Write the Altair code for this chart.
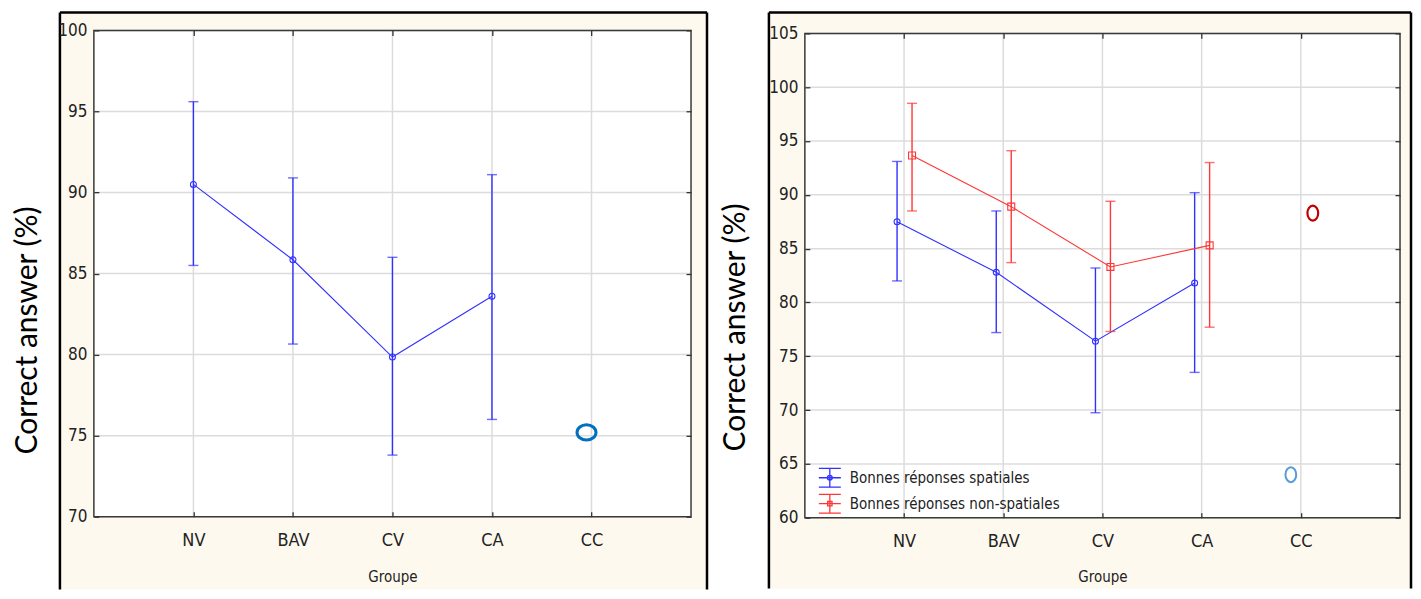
import altair as alt
import pandas as pd

GROUPS = ["NV", "BAV", "CV", "CA", "CC"]
MEAN_GROUPS = ["NV", "BAV", "CV", "CA"]

# Left panel values
L_MEAN = [90.5, 85.85, 79.85, 83.6]
L_LOW = [85.5, 80.65, 73.8, 76.0]
L_HIGH = [95.6, 90.9, 86.0, 91.1]
L_CC = [75.2]
L_TICKS = [70, 75, 80, 85, 90, 95, 100]

# Right panel values
SERIES = ["Bonnes réponses spatiales", "Bonnes réponses non-spatiales"]
S_MEAN = [87.5, 82.8, 76.4, 81.8]
S_LOW = [82.0, 77.2, 69.75, 73.5]
S_HIGH = [93.1, 88.5, 83.2, 90.2]
N_MEAN = [93.65, 88.9, 83.3, 85.3]
N_LOW = [88.5, 83.7, 77.3, 77.7]
N_HIGH = [98.5, 94.1, 89.4, 93.0]
S_CC = [64.0]
N_CC = [88.3]
R_TICKS = [60, 65, 70, 75, 80, 85, 90, 95, 100, 105]

NARROW = "Liberation Sans Narrow, Arial Narrow, DejaVu Sans Condensed, sans-serif"
TITLE_FONT = "Lato, Open Sans, sans-serif"
BLUE = "#3030FF"
RED = "#FF3636"
CREAM = "#FEF9EE"
GRID = "#DCDCDC"
INK = "#222222"
TICKC = "#333333"

PATH_SPAT = ("M-1,-0.85H1M-1,0.85H1M0,-0.85V0.85M-1,0H1"
             "M0.22,0A0.22,0.22 0 1,1 -0.22,0A0.22,0.22 0 1,1 0.22,0")
PATH_NONS = ("M-1,-0.85H1M-1,0.85H1M0,-0.85V0.85M-1,0H1"
             "M-0.2,-0.2H0.2V0.2H-0.2Z")
WIDE_O = "M1,0A1,0.8 0 1,1 -1,0A1,0.8 0 1,1 1,0"
TALL_O = "M0.72,0A0.72,1 0 1,1 -0.72,0A0.72,1 0 1,1 0.72,0"

one = pd.DataFrame({"k": [0]})


def x_enc(axis=None):
    return alt.X("group:N", sort=GROUPS,
                 scale=alt.Scale(type="point", domain=GROUPS, padding=1),
                 axis=axis, title=None)


def make_y(ydom, H, top):
    def y_enc(field, axis=None):
        return alt.Y(f"{field}:Q",
                     scale=alt.Scale(domain=ydom, nice=False, zero=False, range=[H, top]),
                     axis=axis, title=None)
    return y_enc


def frame_layers(W, H, top, fx0, fx1, fy0, fy1):
    bg = alt.Chart(one).mark_rect(fill=CREAM).encode(
        x=alt.value(fx0), x2=alt.value(fx1), y=alt.value(fy0), y2=alt.value(fy1))
    lft = alt.Chart(one).mark_rule(color="black", strokeWidth=2.5).encode(
        x=alt.value(fx0), y=alt.value(fy0), y2=alt.value(fy1))
    tp = alt.Chart(one).mark_rule(color="black", strokeWidth=2.5).encode(
        x=alt.value(fx0), x2=alt.value(fx1), y=alt.value(fy0))
    rgt = alt.Chart(one).mark_rule(color="black", strokeWidth=2.5).encode(
        x=alt.value(fx1), y=alt.value(fy0), y2=alt.value(fy1))
    plot = alt.Chart(one).mark_rect(fill="white").encode(
        x=alt.value(0), x2=alt.value(W), y=alt.value(top), y2=alt.value(H))
    return [bg, lft, tp, rgt, plot]


def border_layer(W, H, top):
    return alt.Chart(one).mark_rect(fillOpacity=0, stroke="#3a3a3a", strokeWidth=1.5).encode(
        x=alt.value(0), x2=alt.value(W), y=alt.value(top), y2=alt.value(H))


def grid_layers(ticks, y_enc, H, top, title_x, title_y, xtitle_y):
    yaxis = alt.Axis(orient="left", values=ticks, offset=-5, domain=False, grid=False,
                     ticks=True, tickSize=5, tickColor=TICKC, tickWidth=1.3,
                     labelPadding=7, labelFont=NARROW, labelFontSize=17, labelColor=INK,
                     title="Correct answer (%)", titleFont=TITLE_FONT, titleFontSize=30,
                     titleFontWeight="normal", titleColor="black", titleAngle=270,
                     titleX=title_x, titleY=title_y, titleAlign="center",
                     titleBaseline="middle", zindex=1)
    xaxis = alt.Axis(orient="bottom", offset=-5, domain=False, grid=False, ticks=True,
                     tickSize=5, tickColor=TICKC, tickWidth=1.3, labelPadding=15,
                     labelFont=NARROW, labelFontSize=18, labelColor=INK, labelAngle=0,
                     title="Groupe", titleFont=NARROW, titleFontSize=15,
                     titleFontWeight="normal", titleColor=INK, titleY=xtitle_y,
                     titleBaseline="middle", zindex=1)
    ygrid = alt.Chart(pd.DataFrame({"t": ticks})).mark_rule(color=GRID, strokeWidth=1.5).encode(
        y=y_enc("t", yaxis))
    xgrid = alt.Chart(pd.DataFrame({"group": GROUPS})).mark_rule(color=GRID, strokeWidth=1.5).encode(
        x=x_enc(xaxis), y=alt.value(top), y2=alt.value(H))
    return [ygrid, xgrid]


def series_layers(df, y_enc, ticks, top, color, off, shape, size, mirror):
    base = alt.Chart(df)
    if mirror:
        top_axis = alt.Axis(orient="top", offset=-5 - top, domain=False, labels=False,
                            grid=False, ticks=True, tickSize=5, tickColor=TICKC,
                            tickWidth=1.3, title=None, zindex=1)
        right_axis = alt.Axis(orient="right", values=ticks, offset=-5, domain=False,
                              labels=False, grid=False, ticks=True, tickSize=5,
                              tickColor=TICKC, tickWidth=1.3, title=None, zindex=1)
        rule = base.mark_rule(color=color, strokeWidth=1.4, xOffset=off).encode(
            x=x_enc(top_axis), y=y_enc("low", right_axis), y2=alt.Y2("high:Q"))
    else:
        rule = base.mark_rule(color=color, strokeWidth=1.4, xOffset=off).encode(
            x=x_enc(), y=y_enc("low"), y2=alt.Y2("high:Q"))
    cap_lo = base.mark_tick(color=color, size=10, thickness=1.4, xOffset=off).encode(
        x=x_enc(), y=y_enc("low"))
    cap_hi = base.mark_tick(color=color, size=10, thickness=1.4, xOffset=off).encode(
        x=x_enc(), y=y_enc("high"))
    line = base.mark_line(color=color, strokeWidth=1.1, xOffset=off).encode(
        x=x_enc(), y=y_enc("mean"), order=alt.Order("idx:Q"))
    pts = base.mark_point(color=color, shape=shape, size=size, filled=False, opacity=1,
                          strokeWidth=1.1, xOffset=off).encode(
        x=x_enc(), y=y_enc("mean"))
    return [rule, cap_lo, cap_hi, line, pts]


# ---------------- Left panel ----------------
LW, LH, LTOP = 598, 487, 0
ly = make_y([70, 100], LH, LTOP)
left_df = pd.DataFrame({"group": MEAN_GROUPS, "idx": list(range(len(MEAN_GROUPS))),
                        "mean": L_MEAN, "low": L_LOW, "high": L_HIGH})
left_cc = pd.DataFrame({"group": ["CC"], "v": L_CC})

left_layers = (frame_layers(LW, LH, LTOP, -34, 614, -18, 560)
               + grid_layers(L_TICKS, ly, LH, LTOP, -71, 300, 65)
               + series_layers(left_df, ly, L_TICKS, LTOP, BLUE, 0, "circle", 35, True)
               + [alt.Chart(left_cc).mark_point(shape=WIDE_O, size=361, filled=False,
                                                 strokeWidth=3, color="#0070C0",
                                                 opacity=1, xOffset=-5).encode(
                   x=x_enc(), y=ly("v"))]
               + [border_layer(LW, LH, LTOP)])

left = alt.layer(*left_layers).properties(width=LW, height=LH).resolve_axis(
    x="independent", y="independent")

# ---------------- Right panel ----------------
RW, RH, RTOP = 596, 488, 3
ry = make_y([60, 105], RH, RTOP)
idx = list(range(len(MEAN_GROUPS)))
spat_df = pd.DataFrame({"group": MEAN_GROUPS, "idx": idx, "series": SERIES[0],
                        "mean": S_MEAN, "low": S_LOW, "high": S_HIGH})
nons_df = pd.DataFrame({"group": MEAN_GROUPS, "idx": idx, "series": SERIES[1],
                        "mean": N_MEAN, "low": N_LOW, "high": N_HIGH})
legend_df = pd.concat([spat_df, nons_df], ignore_index=True)
spat_cc = pd.DataFrame({"group": ["CC"], "v": S_CC})
nons_cc = pd.DataFrame({"group": ["CC"], "v": N_CC})

# legends of a concatenated chart are placed from the first panel's plot origin
leg = alt.Legend(orient="none", legendX=725, legendY=436, title=None, symbolOpacity=1,
                 symbolSize=484, symbolStrokeWidth=1.3, symbolFillColor="transparent",
                 labelFont=NARROW, labelFontSize=15, labelColor=INK, labelOffset=8,
                 labelLimit=0, rowPadding=2, padding=0)
legend_layer = alt.Chart(legend_df).mark_point(opacity=0, filled=False).encode(
    x=x_enc(), y=ry("mean"),
    color=alt.Color("series:N", scale=alt.Scale(domain=SERIES, range=[BLUE, RED]), legend=leg),
    shape=alt.Shape("series:N", scale=alt.Scale(domain=SERIES, range=[PATH_SPAT, PATH_NONS]),
                    legend=leg))

right_layers = (frame_layers(RW, RH, RTOP, -36, 607, -18, 559)
                + grid_layers(R_TICKS, ry, RH, RTOP, -74, 297, 64)
                + series_layers(spat_df, ry, R_TICKS, RTOP, BLUE, -7, "circle", 35, True)
                + series_layers(nons_df, ry, R_TICKS, RTOP, RED, 8, "square", 49, False)
                + [alt.Chart(spat_cc).mark_point(shape=TALL_O, size=225, filled=False,
                                                  strokeWidth=2, color="#5B9BD5",
                                                  opacity=1, xOffset=-10).encode(
                       x=x_enc(), y=ry("v")),
                   alt.Chart(nons_cc).mark_point(shape=TALL_O, size=225, filled=False,
                                                  strokeWidth=2.2, color="#C00000",
                                                  opacity=1, xOffset=12).encode(
                       x=x_enc(), y=ry("v")),
                   legend_layer]
                + [border_layer(RW, RH, RTOP)])

right = alt.layer(*right_layers).properties(width=RW, height=RH).resolve_axis(
    x="independent", y="independent")

chart = alt.hconcat(left, right, spacing=12).properties(
    padding={"left": 5, "top": 2, "right": 0, "bottom": 0}, background="white"
).configure_view(strokeWidth=0)

chart.save("out.html", embed_options={"renderer": "svg", "actions": False})
